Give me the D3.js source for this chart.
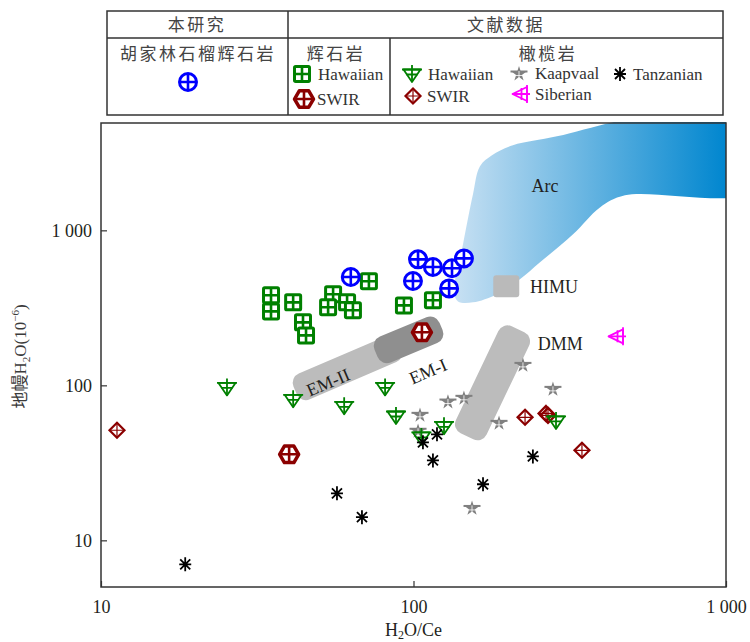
<!DOCTYPE html>
<html>
<head>
<meta charset="utf-8">
<script src="https://cdn.jsdelivr.net/npm/d3@7"></script>
<style>
  body { margin: 0; background: #fff; }
  svg { display: block; font-family: "Liberation Serif", "Noto Sans CJK SC", serif; }
</style>
</head>
<body>
<svg id="chart" width="750" height="642"></svg>
<script>
// ---------- axis ticks ----------
const xTickValues = [10, 100, 1000];
const yTickValues = [10, 100, 1000];
const tickLabels = ["10", "100", "1 000"];

// ---------- samples: [H2O/Ce, mantle H2O (ppm)] ----------
const huJiaLin = [[63, 500], [103.4, 650], [99.6, 471], [115.4, 580], [132.8, 569], [145, 659], [130, 422]];
const pyxHawaiian = [[35, 381], [35, 300], [41.2, 343], [44.3, 255], [45.3, 210], [55.3, 387], [53.3, 319],
                     [61.3, 343], [64, 305], [72, 469], [93.2, 328], [115.4, 354]];
const pyxSWIR = [[106.4, 220], [40, 35.9]];
const perHawaiian = [[25.3, 97], [41.2, 81.2], [60, 73.2], [81.1, 97], [87.9, 63.4], [125.2, 54.4], [106, 46.5], [285.8, 58.9]];
const perSWIR = [[11.25, 51.3], [227.5, 62.2], [265.5, 65.9], [269.4, 64], [346, 38.1]];
const perKaapvaal = [[104.9, 65], [103.4, 51.3], [128.9, 79.2], [145, 83.7], [153.9, 16.3], [187.8, 57.7], [224, 136.5], [279.4, 95.6]];
const perSiberian = [[448, 207]];
const perTanzanian = [[18.6, 7], [56.9, 20.1], [68.4, 14.1], [107.2, 42.9], [118.9, 48.3], [115.4, 32.8], [166.9, 23], [241, 34.8]];

// ---------- reference fields ----------
const arcField = [[1284, 5600], [1284, 1839], [475, 1682], [395, 1406], [324, 942], [254, 622], [219, 483],
                  [185, 387], [155, 343], [138.8, 348], [134.8, 398], [144, 812], [155, 1707], [163.2, 2588],
                  [178.3, 3047], [208, 3535], [287.8, 4040], [530.7, 5358]];
const himuX = [180, 218];
const himuY = [370, 513];
const emII = [[41.8, 92.8], [90.5, 181.3]];
const emI = [[75.9, 160.9], [122.5, 240.3]];
const dmm = [[216, 229.8], [148.3, 46.9]];

// ---------- layout ----------
const svg = d3.select("#chart");
const plot = { left: 101, right: 726, top: 122, bottom: 587 };
const x = d3.scaleLog().domain([10, 1000]).range([plot.left, plot.right]);
const y = d3.scaleLog().domain([5, 5000]).range([plot.bottom, plot.top]);
const textColor = "#231f20";
const lineColor = "#333";

const defs = svg.append("defs");
defs.append("clipPath").attr("id", "plotClip")
  .append("rect").attr("x", plot.left).attr("y", plot.top)
  .attr("width", plot.right - plot.left).attr("height", plot.bottom - plot.top);

const grad = defs.append("linearGradient").attr("id", "arcGrad")
  .attr("gradientUnits", "userSpaceOnUse")
  .attr("x1", x(134)).attr("x2", plot.right).attr("y1", 0).attr("y2", 0);
grad.append("stop").attr("offset", "0%").attr("stop-color", "#c9e1f3");
grad.append("stop").attr("offset", "100%").attr("stop-color", "#0086cf");

// ---------- fields ----------
const fields = svg.append("g").attr("clip-path", "url(#plotClip)");

fields.append("path")
  .attr("d", d3.line().x(d => x(d[0])).y(d => y(d[1])).curve(d3.curveCatmullRomClosed.alpha(0.5))(arcField))
  .attr("fill", "url(#arcGrad)");

fields.append("rect")
  .attr("x", x(himuX[0])).attr("y", y(himuY[1]))
  .attr("width", x(himuX[1]) - x(himuX[0])).attr("height", y(himuY[0]) - y(himuY[1]))
  .attr("rx", 3).attr("fill", "#bababa");

function band(ends, width, color) {
  const x1 = x(ends[0][0]), y1 = y(ends[0][1]);
  const x2 = x(ends[1][0]), y2 = y(ends[1][1]);
  const len = Math.hypot(x2 - x1, y2 - y1);
  const ang = Math.atan2(y2 - y1, x2 - x1) * 180 / Math.PI;
  fields.append("rect")
    .attr("transform", `translate(${(x1 + x2) / 2},${(y1 + y2) / 2}) rotate(${ang})`)
    .attr("x", -len / 2).attr("y", -width / 2)
    .attr("width", len).attr("height", width)
    .attr("rx", 10).attr("fill", color);
}
band(emII, 28, "#bcbcbc");
band(emI, 28, "#8f8f8f");
band(dmm, 34, "#bcbcbc");

const fieldLabels = [
  { text: "Arc", at: [263.5, 1923], anchor: "middle", rot: 0 },
  { text: "HIMU", at: [236, 429], anchor: "start", rot: 0 },
  { text: "DMM", at: [250, 184], anchor: "start", rot: 0 },
  { text: "EM-II", at: [53.3, 104.5], anchor: "middle", rot: -23 },
  { text: "EM-I", at: [111.3, 123], anchor: "middle", rot: -23 }
];
svg.append("g").selectAll("text").data(fieldLabels).join("text")
  .attr("transform", d => `translate(${x(d.at[0])},${y(d.at[1])}) rotate(${d.rot})`)
  .attr("text-anchor", d => d.anchor)
  .attr("dy", "0.34em")
  .attr("font-size", 18)
  .attr("fill", textColor)
  .text(d => d.text);

// ---------- marker shapes ----------
const RED = "#8b0000", GREEN = "#008000", BLUE = "#0000ff", GREY = "#808080", MAGENTA = "#ff00ff";

function drawMarker(g, type) {
  switch (type) {
    case "circle":
      g.append("circle").attr("r", 8.5).attr("fill", "#fff").attr("stroke", BLUE).attr("stroke-width", 3);
      g.append("path").attr("d", "M-8.5,0H8.5M0,-8.5V8.5").attr("stroke", BLUE).attr("stroke-width", 2.6);
      break;
    case "square":
      g.append("rect").attr("x", -7.5).attr("y", -7.5).attr("width", 15).attr("height", 15).attr("rx", 1.2)
        .attr("fill", "#fff").attr("stroke", GREEN).attr("stroke-width", 3);
      g.append("path").attr("d", "M-7.5,0H7.5M0,-7.5V7.5").attr("stroke", GREEN).attr("stroke-width", 2.6);
      break;
    case "hexagon": {
      const r = 9.5;
      const pts = d3.range(6).map(i => [r * Math.cos(i * Math.PI / 3), r * Math.sin(i * Math.PI / 3)]);
      g.append("path").attr("d", "M" + pts.join("L") + "Z")
        .attr("fill", "#fff").attr("stroke", RED).attr("stroke-width", 3.5).attr("stroke-linejoin", "round");
      g.append("path").attr("d", `M${-r},0H${r}M0,${-r * 0.866}V${r * 0.866}`).attr("stroke", RED).attr("stroke-width", 2.6);
      break;
    }
    case "triDown":
      g.append("path").attr("d", "M-8.5,-4.5L8.5,-4.5L0,8Z").attr("fill", "none")
        .attr("stroke", GREEN).attr("stroke-width", 1.8).attr("stroke-linejoin", "round");
      g.append("path").attr("d", "M0,-9V8M-5.5,0.5H5.5M-10,-4.5H10").attr("stroke", GREEN).attr("stroke-width", 1.8);
      break;
    case "diamond":
      g.append("path").attr("d", "M0,-7.5L7.5,0L0,7.5L-7.5,0Z").attr("fill", "none")
        .attr("stroke", RED).attr("stroke-width", 2.2);
      g.append("path").attr("d", "M0,-7.5V7.5M-7.5,0H7.5").attr("stroke", RED).attr("stroke-width", 1.2);
      break;
    case "star":
      g.append("path").attr("d", d3.symbol(d3.symbolStar, 70)()).attr("fill", GREY).attr("transform", "translate(0,1)");
      g.append("path").attr("d", "M-8.5,-1.5H8.5").attr("stroke", GREY).attr("stroke-width", 2);
      g.append("path").attr("d", "M0,-2V6M-3,2.5H3").attr("stroke", "#fff").attr("stroke-width", 0.8);
      break;
    case "triLeft":
      g.append("path").attr("d", "M-8.5,0L6,-7L6,7Z").attr("fill", "none")
        .attr("stroke", MAGENTA).attr("stroke-width", 1.8).attr("stroke-linejoin", "round");
      g.append("path").attr("d", "M6,-9V9M0.5,-6V6M-8.5,0H9").attr("stroke", MAGENTA).attr("stroke-width", 1.8);
      break;
    case "asterisk":
      g.append("path").attr("d", "M0,-7V7M-5,-5L5,5M-5,5L5,-5M-6,0H6").attr("stroke", "#000").attr("stroke-width", 1.8);
      break;
  }
}

function plotSeries(data, type) {
  svg.append("g").selectAll("g").data(data).join("g")
    .attr("transform", d => `translate(${x(d[0])},${y(d[1])})`)
    .each(function () { drawMarker(d3.select(this), type); });
}

plotSeries(perKaapvaal, "star");
plotSeries(perSWIR, "diamond");
plotSeries(perHawaiian, "triDown");
plotSeries(perTanzanian, "asterisk");
plotSeries(perSiberian, "triLeft");
plotSeries(pyxHawaiian, "square");
plotSeries(pyxSWIR, "hexagon");
plotSeries(huJiaLin, "circle");

// ---------- axes ----------
const xAxis = svg.append("g").attr("transform", `translate(0,${plot.bottom})`)
  .call(d3.axisBottom(x).tickValues(xTickValues).tickSize(-6).tickPadding(13).tickFormat((d, i) => tickLabels[i]));
const yAxis = svg.append("g").attr("transform", `translate(${plot.left},0)`)
  .call(d3.axisLeft(y).tickValues(yTickValues).tickSize(-6).tickPadding(9).tickFormat((d, i) => tickLabels[i]));
[xAxis, yAxis].forEach(a => {
  a.select(".domain").remove();
  a.selectAll("line").attr("stroke", lineColor).attr("stroke-width", 1.2);
  a.selectAll("text").attr("font-size", 18).attr("fill", textColor)
    .attr("font-family", "Liberation Serif, serif");
});

svg.append("rect")
  .attr("x", plot.left).attr("y", plot.top + 1)
  .attr("width", plot.right - plot.left).attr("height", plot.bottom - plot.top - 1)
  .attr("fill", "none").attr("stroke", lineColor).attr("stroke-width", 1.5);

// axis titles
const xTitle = svg.append("text").attr("x", x(100)).attr("y", 636).attr("text-anchor", "middle")
  .attr("font-size", 18).attr("fill", textColor);
xTitle.append("tspan").text("H");
xTitle.append("tspan").attr("font-size", 12).attr("dy", 3).text("2");
xTitle.append("tspan").attr("dy", -3).text("O/Ce");

const yTitle = svg.append("text")
  .attr("transform", `translate(26,${(plot.top + plot.bottom) / 2 + 2}) rotate(-90)`)
  .attr("text-anchor", "middle").attr("font-size", 17).attr("fill", "#3a3a3a");
yTitle.append("tspan").text("地幔H");
yTitle.append("tspan").attr("font-size", 11).attr("dy", 4).text("2");
yTitle.append("tspan").attr("dy", -4).text("O(10");
yTitle.append("tspan").attr("font-size", 11).attr("dy", -7).text("−6");
yTitle.append("tspan").attr("dy", 7).text(")");

// ---------- legend table ----------
const lg = svg.append("g");
const box = { l: 107, r: 723, t: 11, b: 115, mid: 38, c1: 288, c2: 390 };
lg.append("rect").attr("x", box.l).attr("y", box.t).attr("width", box.r - box.l).attr("height", box.b - box.t)
  .attr("fill", "none").attr("stroke", lineColor).attr("stroke-width", 1.5);
lg.append("path")
  .attr("d", `M${box.l},${box.mid}H${box.r}M${box.c1},${box.t}V${box.b}M${box.c2},${box.mid}V${box.b}`)
  .attr("stroke", lineColor).attr("stroke-width", 1.5).attr("fill", "none");

const headings = [
  { text: "本研究", x: 197, y: 25 },
  { text: "文献数据", x: 506, y: 25 },
  { text: "胡家林石榴辉石岩", x: 198, y: 54 },
  { text: "辉石岩", x: 336, y: 54 },
  { text: "橄榄岩", x: 548, y: 54 }
];
lg.selectAll("text.head").data(headings).join("text").attr("class", "head")
  .attr("x", d => d.x).attr("y", d => d.y).attr("dy", "0.36em")
  .attr("text-anchor", "middle").attr("font-size", 17).attr("letter-spacing", 2.5)
  .attr("font-family", "Noto Sans CJK SC, sans-serif").attr("fill", "#444")
  .text(d => d.text);

const legendItems = [
  { type: "circle", mx: 188, my: 82, label: "" },
  { type: "square", mx: 302, my: 74, label: "Hawaiian", tx: 318 },
  { type: "hexagon", mx: 304, my: 99, label: "SWIR", tx: 317 },
  { type: "triDown", mx: 412, my: 74, label: "Hawaiian", tx: 428 },
  { type: "diamond", mx: 413, my: 96, label: "SWIR", tx: 427 },
  { type: "star", mx: 519, my: 73, label: "Kaapvaal", tx: 535 },
  { type: "triLeft", mx: 521, my: 94, label: "Siberian", tx: 535 },
  { type: "asterisk", mx: 620, my: 74, label: "Tanzanian", tx: 633 }
];
legendItems.forEach(d => {
  const g = lg.append("g").attr("transform", `translate(${d.mx},${d.my})`);
  drawMarker(g, d.type);
  if (d.label) {
    lg.append("text").attr("x", d.tx).attr("y", d.my).attr("dy", "0.34em")
      .attr("font-size", 17).attr("fill", "#333").text(d.label);
  }
});
</script>
</body>
</html>
